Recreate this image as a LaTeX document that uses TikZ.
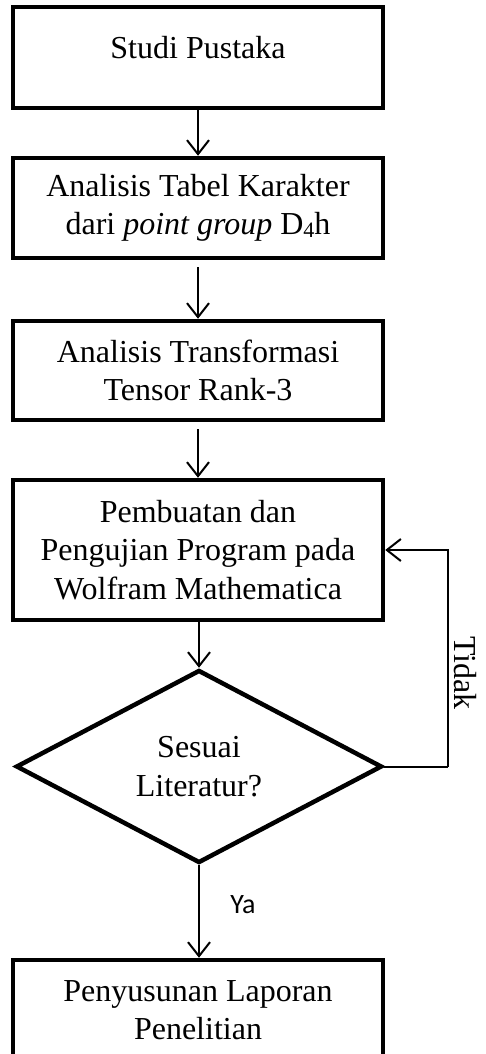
\documentclass[tikz,border=0pt]{standalone}
\usepackage{fontspec}
\setmainfont{Liberation Serif}
\newfontfamily\yafont{Carlito}
\usetikzlibrary{shapes.geometric,arrows.meta}
\begin{document}
\begin{tikzpicture}[x=1pt,y=1pt,
  txt/.style={font=\fontsize{32}{38.5}\selectfont,align=center},
  procbox/.style={draw,line width=4.5pt,minimum width=370pt,inner sep=0pt,txt},
  decbox/.style={draw,line width=4.5pt,diamond,minimum width=366pt,minimum height=193pt,inner sep=0pt,txt},
  arr/.style={line width=2pt,-{Straight Barb[length=14pt,width=22pt,line width=2pt]}}]
\useasboundingbox (0,0) rectangle (486,-1054);
\clip (0,0) rectangle (486,-1054);
\node[procbox,minimum height=101pt] (b1) at (198,-57.5) {};
\node[txt] (t1) at (198,-48) {Studi Pustaka};
\node[procbox,minimum height=100pt] (b2) at (198,-208) {Analisis Tabel Karakter\\dari \textit{point group} D{\fontsize{22}{22}\selectfont\raisebox{-3pt}{4}}h};
\node[procbox,minimum height=99pt] (b3) at (198,-370.5) {Analisis Transformasi\\Tensor Rank-3};
\node[procbox,minimum height=140pt] (b4) at (198,-550) {Pembuatan dan\\Pengujian Program pada\\Wolfram Mathematica};
\node[decbox] (d) at (199,-766.5) {Sesuai\\Literatur?};
\node[procbox,minimum height=100pt] (b5) at (198,-1010) {Penyusunan Laporan\\Penelitian};
\coordinate (c) at (448,-766.5);
\draw[arr] (b1.south) -- (b2.north);
\draw[arr,shorten <=7pt] (b2.south) -- (b3.north);
\draw[arr,shorten <=7pt] (b3.south) -- (b4.north);
\draw[arr] (b4.south -| d.north) -- (d.north);
\draw[arr] (d.south) -- (b5.north -| d.south);
\draw[line width=2pt] (d.east) -- (c);
\draw[arr] (c) |- (b4.east);
\node[txt,rotate=-90] (tidak) at (465,-673) {Tidak};
\node[font=\yafont\fontsize{28}{32}\selectfont] (ya) at (243,-905) {Ya};
\end{tikzpicture}
\end{document}
